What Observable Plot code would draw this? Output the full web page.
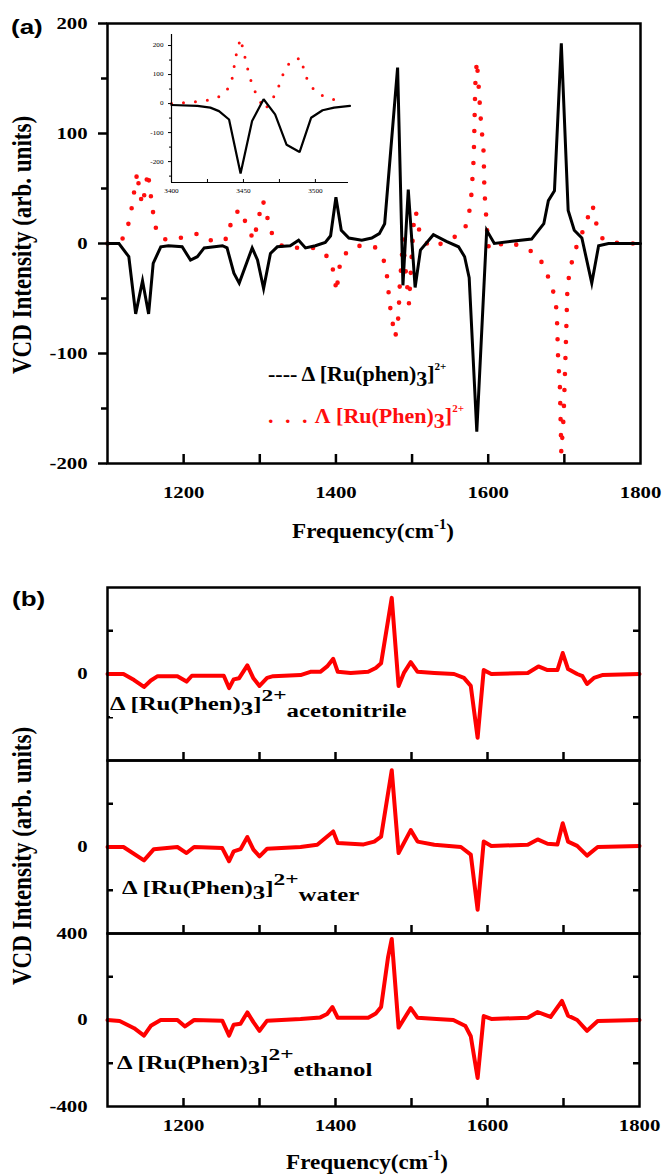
<!DOCTYPE html>
<html><head><meta charset="utf-8">
<script src="https://cdn.jsdelivr.net/npm/d3@7"></script>
<script src="https://cdn.jsdelivr.net/npm/@observablehq/plot@0.6"></script>
<style>
html,body{margin:0;padding:0;background:#fff;}
#root{position:relative;width:662px;height:1175px;overflow:hidden;background:#fff;
  font-family:"Liberation Serif","Times New Roman",serif;font-weight:bold;color:#000;}
.abs{position:absolute;white-space:nowrap;line-height:1;}
.plabel{font-family:"Liberation Sans",Arial,sans-serif;font-size:20px;transform:scaleX(1.3);transform-origin:left top;}
.ylab{font-size:23px;transform:translate(-50%,-50%) rotate(-90deg) scaleY(1.15);}
.xlab{font-size:22px;transform:translateX(-50%) scaleX(1.05);}
.xlab .sp{font-size:14px;position:relative;top:-9px;}
.lg{font-size:22px;}
.lg .s3{position:relative;top:5px;}
.lg .p2{font-size:11px;position:relative;top:-11px;}
.an{font-size:18px;background:#fff;transform:scaleX(1.38);transform-origin:left top;padding:1px 0 4px 0;}
.an .s3{position:relative;top:5px;}
.an .p2{font-size:17px;position:relative;top:-9px;}
.an .sl{position:relative;top:7px;}
</style></head>
<body><div id="root"></div>
<script>
// ---------------- Panel (a): Δ (black solid) ----------------
const aDeltaFreq = [1100,1115,1128,1137,1146,1154,1160,1170,1180,1198,1209,1218,1227,1251,1257,1266,1273,1290,1297,1305,1314,1323,1340,1351,1360,1373,1386,1393,1400,1407,1417,1434,1447,1457,1464,1481,1488,1495,1504,1511,1528,1545,1561,1569,1575,1585,1598,1608,1631,1657,1673,1679,1687,1696,1705,1713,1723,1736,1745,1758,1800];
const aDeltaVCD  = [0,0,-12,-64,-34,-64,-18,-3,-2,-3,-15,-12,-4,-2,-4,-27,-36,-4,-15,-41,-9,-3,-2,3,-4,-2,1,7,42,12,5,3,5,9,18,160,-38,49,-40,-6,8,2,-3,-12,-31,-171,12,0,2,4,18,39,48,182,30,12,5,-36,-2,0,0];
// ---------------- Panel (a): Λ (red dotted) ----------------
const aLambdaFreq = [1100,1112,1121,1130,1133,1137,1139,1142,1146,1150,1153,1159,1163,1170,1180,1202,1219,1241,1259,1263,1274,1284,1292,1298,1304,1309,1312,1330,1352,1373,1393,1397,1401,1403,1407,1427,1451,1465,1468,1470,1473,1478,1482,1483,1484,1486,1488,1492,1496,1500,1503,1505,1509,1522,1545,1569,1575,1578,1581,1582,1583,1585,1587,1590,1594,1595,1598,1600,1604,1621,1644,1666,1677,1686,1690,1692,1694,1696,1699,1702,1704,1707,1713,1723,1731,1737,1742,1751,1775,1800];
const aLambdaVCD  = [0,2,5,23,39,55,65,47,35,51,65,32,15,5,3,6,9,1,5,24,31,15,3,22,39,29,13,-3,-4,-4,-14,-27,-44,-29,-12,-2,-3,-18,-35,-51,-67,-85,-67,-52,-35,-19,4,-28,-55,-5,27,29,13,-3,1,12,28,45,78,110,144,166,148,115,83,48,18,-2,-6,1,-2,-11,-27,-45,-61,-109,-126,-190,-158,-91,-41,-25,-8,9,24,35,18,3,0,0];
const aXDomain = [1100, 1800];
const aYDomain = [-200, 200];
const aXTickLabels = [1200, 1400, 1600, 1800];
const aXTicks = [1200, 1300, 1400, 1500, 1600, 1700];
const aYTickLabels = [-200, -100, 0, 100, 200];
const aYMinorTicks = [-150, -50, 50, 150];

// ---------------- Inset (O–H region) ----------------
const inDeltaFreq = [3400,3418,3427,3433,3440,3448,3456,3464,3472,3480,3489,3497,3505,3513,3524];
const inDeltaVCD  = [-5,-8,-14,-26,-55,-241,-60,15,-37,-142,-167,-49,-23,-14,-8];
const inLambdaFreq = [3400,3409,3418,3426,3435,3441,3443,3444,3446,3448,3450,3452,3454,3457,3461,3465,3471,3475,3478,3483,3490,3492,3495,3501,3510,3518];
const inLambdaVCD  = [0,3,7,12,27,62,105,147,190,224,181,140,97,52,12,-21,23,65,108,149,157,116,73,36,17,9];
const inXDomain = [3400, 3523];
const inYDomain = [-272, 238];
const inXTickLabels = [3400, 3450, 3500];
const inXTicks = [3425, 3450, 3475, 3500];
const inYTickLabels = [-200, -100, 0, 100, 200];
const inYMinorTicks = [-250, -150, -50, 50, 150];

// ---------------- Panel (b): Δ in three solvents ----------------
const bAcnFreq = [1100,1121,1135,1148,1157,1166,1192,1204,1211,1253,1260,1266,1273,1284,1292,1300,1310,1318,1354,1367,1380,1389,1397,1403,1420,1443,1453,1460,1474,1483,1490,1499,1508,1530,1556,1569,1578,1587,1595,1605,1653,1667,1679,1692,1699,1706,1718,1725,1731,1740,1751,1800];
const bAcnVCD  = [0,0,-28,-60,-30,-10,-10,-35,-8,-8,-65,-25,-20,40,-20,-55,-18,-10,-5,10,10,35,70,10,5,10,28,50,352,-55,5,55,10,5,0,-18,-55,-295,18,0,5,35,18,18,97,23,0,-10,-46,-18,-5,0];
const bWaterFreq = [1100,1121,1148,1161,1192,1204,1214,1251,1260,1266,1275,1284,1292,1300,1310,1354,1376,1397,1403,1437,1451,1460,1474,1483,1499,1508,1530,1565,1578,1587,1595,1605,1653,1666,1679,1692,1699,1706,1718,1731,1745,1800];
const bWaterVCD  = [0,0,-62,-10,0,-28,0,-5,-66,-20,-10,46,-12,-43,-8,0,10,72,18,12,25,48,355,-28,78,25,10,0,-35,-290,25,5,10,35,15,12,110,25,5,-40,0,5];
const bEthFreq = [1100,1116,1135,1148,1157,1170,1192,1202,1214,1251,1260,1266,1275,1284,1292,1300,1310,1354,1380,1389,1396,1403,1443,1453,1460,1469,1474,1483,1499,1508,1533,1555,1571,1578,1587,1595,1605,1653,1666,1683,1698,1706,1718,1731,1745,1800];
const bEthVCD  = [0,-5,-38,-72,-27,0,0,-30,0,-3,-72,-22,-17,35,-10,-50,-3,5,12,28,60,10,10,30,60,287,375,-35,55,10,5,0,-28,-75,-268,18,5,10,37,14,88,20,0,-50,-5,0];
const bXDomain = [1100, 1800];
const bYDomain = [-400, 400];
const bXTickLabels = [1200, 1400, 1600, 1800];
const bXTicks = [1200, 1300, 1400, 1500, 1600, 1700];
const bYTicks = [-200, 200];
const bYLabelsTop = [0];
const bYLabelsBottom = [-400, 0, 400];

// ---------------- helpers ----------------
const rows = (fs, vs) => fs.map((f, i) => ({f, v: vs[i]}));
const fmt = d => String(d);
const root = document.getElementById("root");
const baseStyle = {background: "transparent", overflow: "visible",
  fontFamily: "'Liberation Serif','Times New Roman',serif", fontWeight: "bold", color: "black"};
function place(el, left, top) {
  el.style.position = "absolute"; el.style.left = left + "px"; el.style.top = top + "px";
  root.appendChild(el); return el;
}
function stretchTexts(svg, k) {
  svg.querySelectorAll("text").forEach(t => {
    const len = t.getComputedTextLength();
    if (len > 0) { t.setAttribute("textLength", (len * k).toFixed(2)); t.setAttribute("lengthAdjust", "spacingAndGlyphs"); }
  });
}
function addHTML(cls, left, top, html, extra) {
  const d = document.createElement("div");
  d.className = "abs " + cls; d.innerHTML = html;
  d.style.left = left + "px"; d.style.top = top + "px";
  if (extra) Object.assign(d.style, extra);
  root.appendChild(d); return d;
}

// ---------------- Panel (a) ----------------
const aH = 440;
const plotA = Plot.plot({
  width: 662, height: 560, marginTop: 23, marginLeft: 107, marginRight: 22, marginBottom: 97,
  x: {domain: aXDomain, axis: null}, y: {domain: aYDomain, axis: null},
  style: baseStyle,
  marks: [
    Plot.line(rows(aLambdaFreq, aLambdaVCD), {x: "f", y: "v", stroke: "#ff0d0d", strokeWidth: 4.6, strokeDasharray: "0 16", strokeLinecap: "round"}),
    Plot.line(rows(aDeltaFreq, aDeltaVCD), {x: "f", y: "v", stroke: "#000", strokeWidth: 3, strokeLinejoin: "miter", strokeMiterlimit: 6}),
    Plot.tickX(aXTicks, {x: d => d, insetTop: aH - 9, stroke: "#000", strokeWidth: 2.5}),
    Plot.axisX(aXTickLabels, {tickSize: 0, tickPadding: 22, tickFormat: fmt, fontSize: 17, fontWeight: "bold", label: null}),
    Plot.axisY(aYTickLabels, {tickSize: 9, tickPadding: 11, tickFormat: fmt, strokeWidth: 2.5, fontSize: 17, fontWeight: "bold", label: null}),
    Plot.axisY(aYMinorTicks, {tickSize: 6, tickFormat: () => "", strokeWidth: 2.5, label: null}),
    Plot.frame({stroke: "#000", strokeWidth: 2.5})
  ]
});
place(plotA, 0, 0);
stretchTexts(plotA, 1.22);

// ---------------- Inset ----------------
const inH = 148;
const plotIn = Plot.plot({
  width: 212, height: 165, marginTop: 3, marginLeft: 30, marginRight: 5, marginBottom: 14,
  x: {domain: inXDomain, axis: null}, y: {domain: inYDomain, axis: null},
  style: {...baseStyle, fontWeight: "normal"},
  marks: [
    Plot.line(rows(inLambdaFreq, inLambdaVCD), {x: "f", y: "v", stroke: "#ff0d0d", strokeWidth: 3, strokeLinecap: "round", strokeDasharray: "0 12"}),
    Plot.line(rows(inDeltaFreq, inDeltaVCD), {x: "f", y: "v", stroke: "#000", strokeWidth: 2.2, strokeLinejoin: "miter"}),
    Plot.ruleX([inXDomain[0]], {stroke: "#000", strokeWidth: 1.2}),
    Plot.ruleY([inYDomain[0]], {stroke: "#000", strokeWidth: 1.2}),
    Plot.axisY(inYTickLabels, {tickSize: 3, tickPadding: 5, tickFormat: fmt, fontSize: 6, fontWeight: "normal", strokeWidth: 1, label: null}),
    Plot.axisY(inYMinorTicks, {tickSize: 2, tickFormat: () => "", strokeWidth: 1, label: null}),
    Plot.tickX(inXTicks, {x: d => d, insetTop: inH - 3, stroke: "#000", strokeWidth: 1}),
    Plot.axisX(inXTickLabels, {tickSize: 0, tickPadding: 6, tickFormat: fmt, fontSize: 6, fontWeight: "normal", label: null})
  ]
});
place(plotIn, 141, 31);
stretchTexts(plotIn, 1.2);

// ---------------- Panel (b) ----------------
const bH = 173, bW = 532;
function panelB(data, {marginTop, marginBottom, yLabels, showX}) {
  return Plot.plot({
    width: 662, height: marginTop + bH + marginBottom, marginTop, marginBottom, marginLeft: 107, marginRight: 23,
    x: {domain: bXDomain, axis: null}, y: {domain: bYDomain, axis: null},
    style: baseStyle,
    marks: [
      Plot.tickX(bXTicks, {x: d => d, insetTop: bH - 8, stroke: "#000", strokeWidth: 2.5}),
      Plot.tickY(bYTicks, {y: d => d, insetRight: bW - 6, stroke: "#000", strokeWidth: 2.5}),
      Plot.tickY(bYTicks, {y: d => d, insetLeft: bW - 6, stroke: "#000", strokeWidth: 2.5}),
      Plot.axisY(yLabels, {tickSize: 0, tickPadding: 20, tickFormat: fmt, fontSize: 17, fontWeight: "bold", label: null}),
      showX ? Plot.axisX(bXTickLabels, {tickSize: 0, tickPadding: 12, tickFormat: fmt, fontSize: 17, fontWeight: "bold", label: null}) : null,
      Plot.line(data, {x: "f", y: "v", stroke: "#ff0000", strokeWidth: 4, strokeLinejoin: "round"}),
      Plot.frame({stroke: "#000", strokeWidth: 2.5})
    ]
  });
}
const p1 = panelB(rows(bAcnFreq, bAcnVCD), {marginTop: 7, marginBottom: 0, yLabels: bYLabelsTop, showX: false});
place(p1, 0, 580); stretchTexts(p1, 1.22);
const p2 = panelB(rows(bWaterFreq, bWaterVCD), {marginTop: 0, marginBottom: 0, yLabels: bYLabelsTop, showX: false});
place(p2, 0, 760); stretchTexts(p2, 1.22);
const p3 = panelB(rows(bEthFreq, bEthVCD), {marginTop: 0, marginBottom: 70, yLabels: bYLabelsBottom, showX: true});
place(p3, 0, 933); stretchTexts(p3, 1.22);

// ---------------- Text: panel letters, axis titles, legend, annotations ----------------
addHTML("plabel", 11, 17, "(a)");
addHTML("plabel", 12, 589, "(b)");
addHTML("ylab", 22, 245, "VCD Intensity (arb. units)");
addHTML("ylab", 22, 856, "VCD Intensity (arb. units)");
addHTML("xlab", 373, 520, 'Frequency(cm<span class="sp">-1</span>)');
addHTML("xlab", 367, 1151, 'Frequency(cm<span class="sp">-1</span>)');
addHTML("lg", 268, 363, '---- Δ [Ru(phen)<span class="s3">3</span>]<span class="p2">2+</span>', {color: "#000", background: "#fff"});
addHTML("lg", 268, 405, '<span style="letter-spacing:3px">. . .</span> Λ [Ru(Phen)<span class="s3">3</span>]<span class="p2">2+</span>', {color: "#ff0d0d"});
addHTML("an", 110, 694, 'Δ [Ru(Phen)<span class="s3">3</span>]<span class="p2">2+</span><span class="sl">acetonitrile</span>');
addHTML("an", 122, 878, 'Δ [Ru(Phen)<span class="s3">3</span>]<span class="p2">2+</span><span class="sl">water</span>');
addHTML("an", 117, 1053, 'Δ [Ru(Phen)<span class="s3">3</span>]<span class="p2">2+</span><span class="sl">ethanol</span>');
</script>
</body></html>
